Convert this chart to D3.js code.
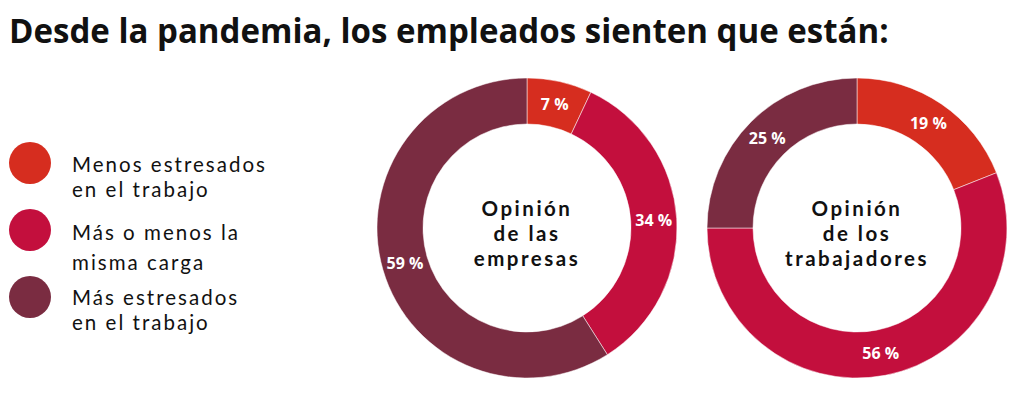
<!DOCTYPE html>
<html><head><meta charset="utf-8">
<script src="https://cdn.jsdelivr.net/npm/d3@7/dist/d3.min.js"></script>
<style>body{margin:0;background:#fff;} svg{display:block;}</style>
</head><body>
<svg id="c" width="1024" height="407"></svg>
<script>
const title = "Desde la pandemia, los empleados sienten que están:";
const categories = ["Menos estresados en el trabajo", "Más o menos la misma carga", "Más estresados en el trabajo"];
const legendLines = [["Menos estresados","en el trabajo"],["Más o menos la","misma carga"],["Más estresados","en el trabajo"]];
const colors = ["#d62d1f", "#c30f3d", "#7a2c41"];
const empresasValues = [7, 34, 59];
const trabajadoresValues = [19, 56, 25];
const centerLabels = [["Opinión","de las","empresas"],["Opinión","de los","trabajadores"]];

const font = "'Open Sans', Lato, sans-serif";
const font2 = "Lato, 'Open Sans', sans-serif";
const svg = d3.select("#c");

// scale a text's font size so it reaches a target width
function fit(sel, refNode, target, base) {
  const w = refNode.getComputedTextLength();
  sel.attr("font-size", base * target / w);
}
// widen a group's letter spacing so that a reference text reaches a target width
function spread(sel, refNode, target) {
  const w = refNode.getComputedTextLength();
  const n = refNode.textContent.length;
  sel.attr("letter-spacing", Math.max(0, (target - w) / n));
}

const t = svg.append("text").attr("x", 9).attr("y", 43)
  .attr("font-family", font).attr("font-weight", 700).attr("font-size", 30)
  .attr("fill", "#111").text(title);
fit(t, t.node(), 880, 30);

const color = d3.scaleOrdinal().domain(categories).range(colors);

// legend
const lg = svg.append("g");
const legendY = [163, 230, 297];
const lineYs = [[9, 34], [10, 40], [8, 33]];
categories.forEach((c, i) => {
  lg.append("circle").attr("cx", 30).attr("cy", legendY[i]).attr("r", 21).attr("fill", color(c));
  legendLines[i].forEach((s, j) => {
    lg.append("text").attr("class", "lt").attr("x", 72).attr("y", legendY[i] + lineYs[i][j])
      .attr("font-family", font2).attr("font-size", 20.5).attr("fill", "#111").text(s);
  });
});
const lts = lg.selectAll("text.lt");
spread(lts, lts.nodes()[0], 195);

const pie = d3.pie().sort(null).value(d => d);
const arc = d3.arc().innerRadius(104).outerRadius(150);
const labelArc = d3.arc().innerRadius(104).outerRadius(150);

[[empresasValues, 527], [trabajadoresValues, 857]].forEach(([vals, cx], k) => {
  const g = svg.append("g").attr("transform", `translate(${cx},228)`);
  const arcs = pie(vals);
  g.selectAll("path").data(arcs).join("path")
    .attr("d", arc).attr("fill", (d, i) => colors[i])
    .attr("stroke", "#fff").attr("stroke-width", 0.5);
  g.selectAll("text.v").data(arcs).join("text").attr("class", "v")
    .attr("transform", d => `translate(${labelArc.centroid(d)})`)
    .attr("text-anchor", "middle").attr("dy", "0.36em")
    .attr("font-family", font).attr("font-weight", 700).attr("font-size", 16)
    .attr("fill", "#fff").text(d => d.data + " %");
  centerLabels[k].forEach((s, j) => {
    g.append("text").attr("class", "ct").attr("x", 0).attr("y", -12 + j * 25)
      .attr("text-anchor", "middle")
      .attr("font-family", font2).attr("font-weight", 700).attr("font-size", 20.5)
      .attr("fill", "#111").text(s);
  });
});
const cts = svg.selectAll("text.ct");
spread(cts, cts.nodes()[5], 144);
</script>
</body></html>
